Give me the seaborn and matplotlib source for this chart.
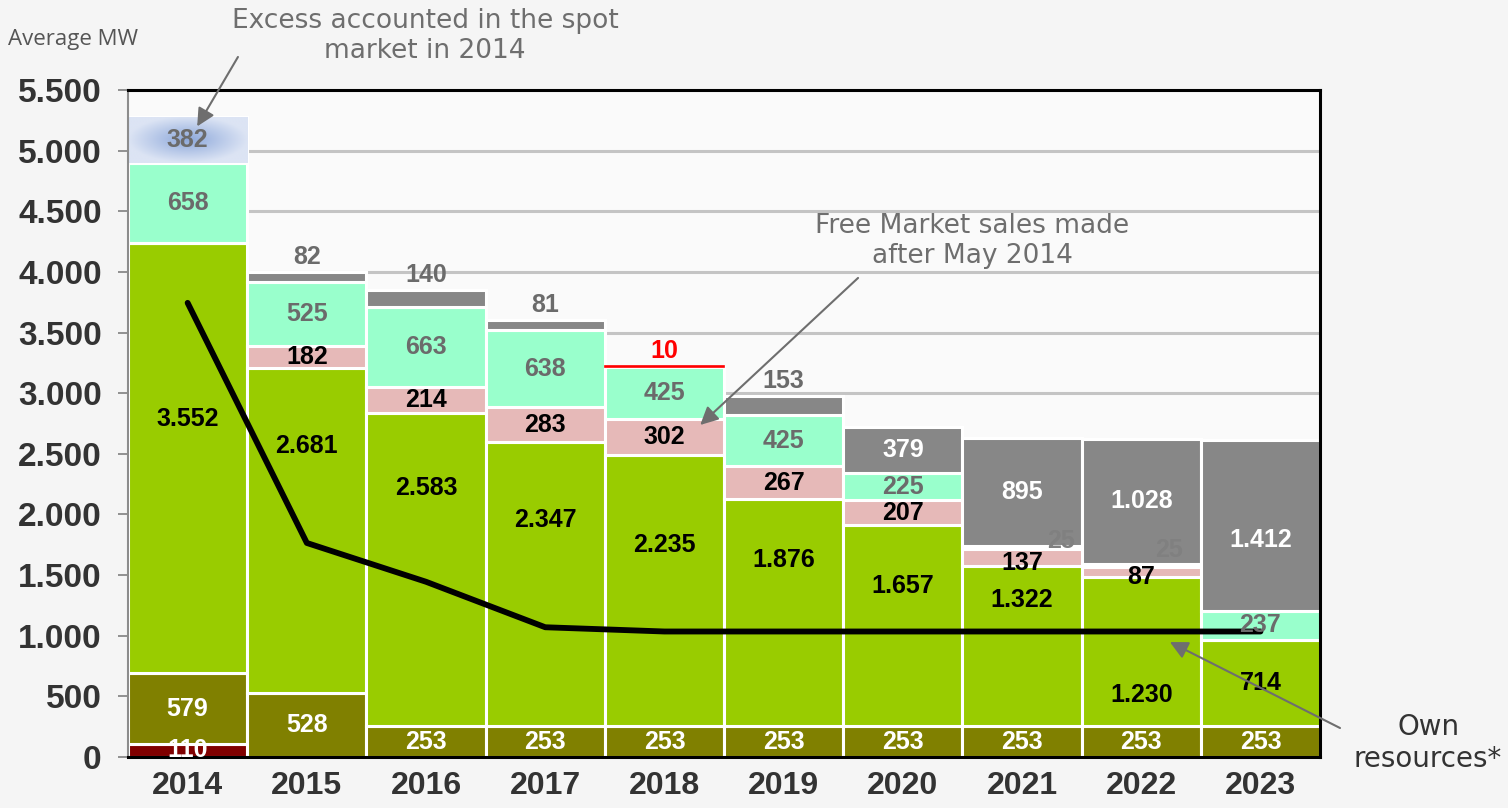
import numpy as np
import pandas as pd
import matplotlib
matplotlib.use("Agg")
import matplotlib.pyplot as plt
import seaborn as sns
from matplotlib.colors import LinearSegmentedColormap

# ================= DATA =================
years = ["2014", "2015", "2016", "2017", "2018", "2019", "2020", "2021", "2022", "2023"]
layer_darkred = [110, 0, 0, 0, 0, 0, 0, 0, 0, 0]
layer_olive = [579, 528, 253, 253, 253, 253, 253, 253, 253, 253]
layer_green = [3552, 2681, 2583, 2347, 2235, 1876, 1657, 1322, 1230, 714]
layer_pink = [0, 182, 214, 283, 302, 267, 207, 137, 87, 0]
layer_aqua = [658, 525, 663, 638, 425, 425, 225, 25, 25, 237]
layer_top = [382, 82, 140, 81, 10, 153, 379, 895, 1028, 1412]
own_resources = [3745, 1765, 1445, 1070, 1035, 1035, 1035, 1035, 1035, 1035]
y_ticks = list(range(0, 5501, 500))

# ================= STYLE =================
C_DARKRED = "#800000"
C_OLIVE = "#808000"
C_GREEN = "#99CC00"
C_PINK = "#E6B9B8"
C_AQUA = "#99FFCC"
C_GRAY = "#878787"
C_LABEL_GRAY = "#6B6B6B"
C_NOTE = "#6E6E6E"
# green label position as fraction of segment height (labels sit above the line)
green_frac = [0.59, 0.76, 0.76, 0.725, 0.67, 0.73, 0.70, 0.79, 0.21, 0.5]

sns.set_theme(style="white")
plt.rcParams["font.family"] = ["Liberation Sans", "DejaVu Sans"]


def fmt(v):
    return f"{v:,}".replace(",", ".")


df = pd.DataFrame({
    "year": years,
    "darkred": layer_darkred, "olive": layer_olive, "green": layer_green,
    "pink": layer_pink, "aqua": layer_aqua, "top": layer_top,
})
layers = [("darkred", C_DARKRED), ("olive", C_OLIVE), ("green", C_GREEN),
          ("pink", C_PINK), ("aqua", C_AQUA), ("top", C_GRAY)]

fig = plt.figure(figsize=(15.08, 8.08), dpi=100)
fig.patch.set_facecolor("#F5F5F5")
ax = fig.add_axes([0.0849, 0.0631, 0.7905, 0.8255])
ax.set_facecolor("#FAFAFA")

bottoms = {}
cum = np.zeros(len(years))
for name, col in layers:
    bottoms[name] = cum.copy()
    sns.barplot(data=df, x="year", y=name, order=years, color=col, width=1.0,
                bottom=cum.copy(), edgecolor="white", linewidth=2.2,
                saturation=1, ax=ax, zorder=2)
    cum = cum + df[name].values

top_bars = ax.containers[-1]

# 2018: the 10 MW sliver drawn as a red line
red_bar = top_bars[4]
red_bar.set_facecolor("red")
red_bar.set_edgecolor("red")
red_bar.set_linewidth(1.2)
red_bar.set_zorder(3)

# 2014: blue gradient for the spot market excess
blue_bar = top_bars[0]
blue_bar.set_facecolor("none")
bx, by = blue_bar.get_x(), blue_bar.get_y()
bw, bh = blue_bar.get_width(), blue_bar.get_height()
gx, gy = np.meshgrid(np.linspace(-1, 1, 200), np.linspace(-1, 1, 80))
grad = np.clip(np.sqrt(gx ** 2 + gy ** 2), 0, 1)
cmap_blue = LinearSegmentedColormap.from_list("blue", ["#8EA9DB", "#DCE4F4"])
img = ax.imshow(grad, cmap=cmap_blue, extent=(bx, bx + bw, by, by + bh),
                aspect="auto", zorder=2, interpolation="bilinear")
img.set_clip_path(blue_bar)

# own resources line
sns.lineplot(x=np.arange(len(years)), y=own_resources, color="black",
             linewidth=4.2, ax=ax, zorder=5)

# ================= LABELS =================
lab_kw = dict(ha="center", va="center", fontsize=18, fontweight="bold", zorder=6)
for i in range(len(years)):
    if layer_darkred[i]:
        ax.text(i, bottoms["darkred"][i] + layer_darkred[i] / 2, fmt(layer_darkred[i]),
                color="white", **lab_kw)
    ax.text(i, bottoms["olive"][i] + layer_olive[i] / 2, fmt(layer_olive[i]),
            color="white", **lab_kw)
    ax.text(i, bottoms["green"][i] + layer_green[i] * green_frac[i], fmt(layer_green[i]),
            color="black", **lab_kw)
    if layer_pink[i]:
        yp = bottoms["pink"][i] + layer_pink[i] / 2
        if layer_pink[i] < 150:
            yp -= 40
        ax.text(i, yp, fmt(layer_pink[i]), color="black", **lab_kw)
    va = layer_aqua[i]
    if va > 100:
        ax.text(i, bottoms["aqua"][i] + va / 2, fmt(va), color=C_LABEL_GRAY, **lab_kw)
    else:
        dx = 0.33 if i == 7 else 0.23
        dy = 45 if i == 7 else 110
        ax.text(i + dx, bottoms["aqua"][i] + va + dy, fmt(va), color="#808080", **lab_kw)
    vt = layer_top[i]
    tb = bottoms["top"][i]
    if i == 0:
        ax.text(i, tb + vt / 2, fmt(vt), color=C_LABEL_GRAY, **lab_kw)
    elif vt == 10:
        ax.text(i, tb + vt + 125, fmt(vt), color="red", **lab_kw)
    elif vt < 200:
        ax.text(i, tb + vt + 125, fmt(vt), color=C_LABEL_GRAY, **lab_kw)
    else:
        yt = tb + vt / 2
        if vt > 1200:
            yt -= 120
        ax.text(i, yt, fmt(vt), color="white", **lab_kw)

# ================= AXES =================
ax.set_xlim(-0.5, len(years) - 0.5)
ax.set_ylim(0, 5500)
ax.set_yticks(y_ticks)
ax.set_yticklabels([fmt(v) for v in y_ticks])
ax.set_xticks(range(len(years)))
ax.set_xticklabels(years)
ax.set_xticks(np.arange(-0.5, len(years)), minor=True)
ax.set_xlabel("")
ax.set_ylabel("")
ax.tick_params(axis="x", which="major", length=0, pad=10, labelsize=23, labelcolor="#333333")
ax.tick_params(axis="x", which="minor", length=9, width=2.2, color="black", direction="out")
ax.tick_params(axis="y", length=7, width=1.2, color="#808080", direction="out",
               pad=12, labelsize=24, labelcolor="#333333", left=True)
for lab in ax.get_xticklabels() + ax.get_yticklabels():
    lab.set_fontweight("bold")
ax.yaxis.grid(True, color="#C4C4C4", linewidth=2.2, zorder=0)
ax.set_axisbelow(True)
for side in ["top", "right", "bottom"]:
    ax.spines[side].set_visible(True)
    ax.spines[side].set_color("black")
    ax.spines[side].set_linewidth(2.2)
ax.spines["left"].set_color("#8C8C8C")
ax.spines["left"].set_linewidth(1.5)

# ================= NOTES =================
note_kw = dict(ha="center", va="center", fontsize=19, color=C_NOTE,
               family="DejaVu Sans", linespacing=1.2)
fig.text(0.2818, 0.9554, "Excess accounted in the spot\nmarket in 2014", **note_kw)
fig.text(0.6446, 0.7017, "Free Market sales made\nafter May 2014", **note_kw)
fig.text(0.947, 0.0804, "Own\nresources*", ha="center", va="center", fontsize=20,
         color="#333333", family="DejaVu Sans", linespacing=1.15)
fig.text(0.0053, 0.9505, "Average MW", ha="left", va="center", fontsize=16,
         color="#555555", family="Open Sans")

arrow_kw = dict(arrowstyle="-|>,head_length=0.9,head_width=0.45", color="#6E6E6E",
                lw=1.5, shrinkA=0, shrinkB=0)
ax.annotate("", xy=(0.08, 5200), xycoords="data",
            xytext=(0.1578, 0.9295), textcoords="figure fraction",
            arrowprops=arrow_kw, zorder=7)
ax.annotate("", xy=(4.30, 2738), xycoords="data",
            xytext=(0.569, 0.656), textcoords="figure fraction",
            arrowprops=arrow_kw, zorder=7)
ax.annotate("", xy=(8.24, 948), xycoords="data",
            xytext=(0.8886, 0.099), textcoords="figure fraction",
            arrowprops=arrow_kw, zorder=7, annotation_clip=False)

fig.savefig("out.png", dpi=100, facecolor=fig.get_facecolor())
